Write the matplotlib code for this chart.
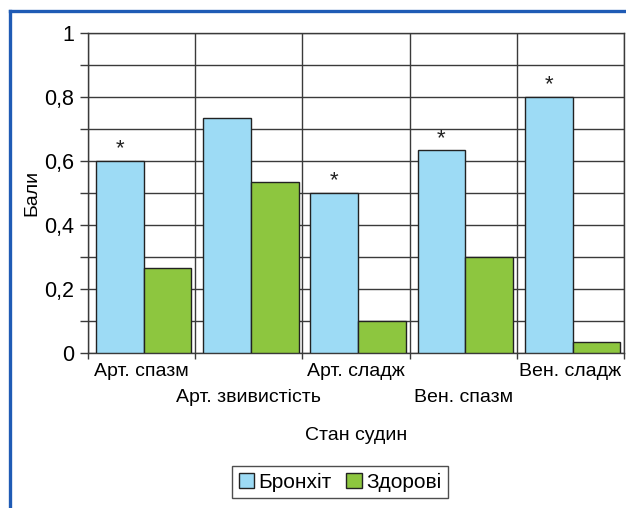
import matplotlib
matplotlib.use("Agg")
import matplotlib.pyplot as plt
from matplotlib.patches import Patch
from matplotlib.lines import Line2D
from matplotlib.ticker import MultipleLocator, FuncFormatter
import numpy as np

categories = ["Арт. спазм", "Арт. звивистість", "Арт. сладж", "Вен. спазм", "Вен. сладж"]
bronchitis = [0.6, 0.733, 0.5, 0.633, 0.8]
healthy = [0.267, 0.533, 0.1, 0.3, 0.033]
marked = [True, False, True, True, True]  # significant difference
series_names = ["Бронхіт", "Здорові"]

BLUE = "#9ddbf5"
GREEN = "#8dc63f"
FRAME = "#1f5bb5"
GRID = "#3a3a3a"

plt.rcParams["font.family"] = ["Liberation Sans", "DejaVu Sans"]
plt.rcParams["font.size"] = 14


def fmt(v, pos):
    if abs(v) < 1e-9 or abs(v - 1) < 1e-9:
        return f"{round(v)}"
    return f"{v:.1f}".replace(".", ",")


fig = plt.figure(figsize=(6.26, 5.08), dpi=100)
ax = fig.add_axes([88 / 626, 1 - 353 / 508, 536 / 626, 320 / 508])

x = np.arange(len(categories))
w = 0.445
ax.bar(x - w / 2 + 0.02, bronchitis, w, color=BLUE, edgecolor="#222222", linewidth=1, zorder=3)
ax.bar(x + w / 2 + 0.02, healthy, w, color=GREEN, edgecolor="#222222", linewidth=1, zorder=3)

for xi, v, m in zip(x, bronchitis, marked):
    if m:
        ax.annotate("*", (xi - w / 2 + 0.02, v), xytext=(0, 1), textcoords="offset points",
                    ha="center", va="bottom", fontsize=16, color="#222222")

ax.set_xlim(-0.5, len(categories) - 0.5)
ax.set_ylim(0, 1)

# grid lines: every 0.1 horizontally, category borders vertically
ax.yaxis.set_major_locator(MultipleLocator(0.2))
ax.yaxis.set_minor_locator(MultipleLocator(0.1))
ax.yaxis.set_major_formatter(FuncFormatter(fmt))
ax.set_xticks(np.arange(len(categories) + 1) - 0.5)
ax.set_xticklabels([])
ax.grid(True, which="both", axis="y", color=GRID, linewidth=1, zorder=0)
ax.grid(True, which="major", axis="x", color=GRID, linewidth=1, zorder=0)
ax.tick_params(axis="y", which="both", direction="out", length=6, width=1, color=GRID, labelsize=15.5, pad=4)
ax.tick_params(axis="x", direction="out", length=4, width=1, color=GRID)
for s in ax.spines.values():
    s.set_color(GRID)
    s.set_linewidth(1)

# category names, staggered on two rows
for i, name in enumerate(categories):
    dy = -19 if i % 2 == 0 else -45
    ax.annotate(name, (i, 0), xycoords=("data", "axes fraction"), xytext=(0, dy),
                textcoords="offset pixels", ha="center", va="center", fontsize=14)

ax.set_ylabel("Бали", fontsize=14, labelpad=3)
ax.annotate("Стан судин", (0.5, 0), xycoords="axes fraction", xytext=(0, -82),
            textcoords="offset pixels", ha="center", va="center", fontsize=14)

handles = [Patch(facecolor=BLUE, edgecolor="#222222"), Patch(facecolor=GREEN, edgecolor="#222222")]
fig.legend(handles, series_names, loc="center", bbox_to_anchor=(340 / 626, 1 - 482 / 508),
           ncol=2, frameon=True, fancybox=False, edgecolor="#222222", fontsize=15,
           handlelength=0.75, handleheight=0.75, handletextpad=0.2, columnspacing=0.7,
           borderpad=0.3, borderaxespad=0)

# blue frame on top and left
fig.add_artist(Line2D([10 / 626, 1], [1 - 11 / 508] * 2, transform=fig.transFigure, color=FRAME, linewidth=2.4))
fig.add_artist(Line2D([10 / 626] * 2, [1 - 11 / 508, 0], transform=fig.transFigure, color=FRAME, linewidth=2.4))

fig.savefig("out.png", dpi=100)
